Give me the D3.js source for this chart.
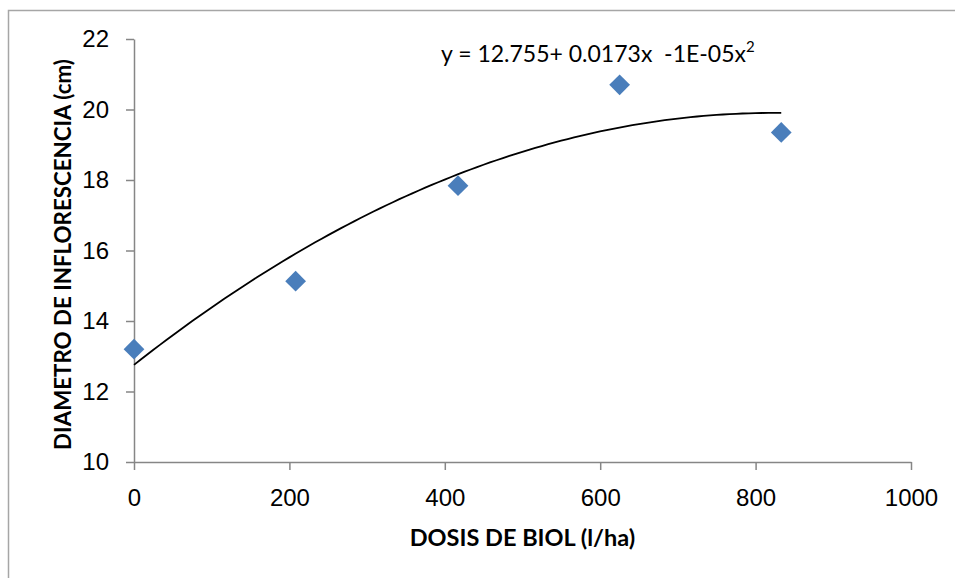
<!DOCTYPE html>
<html>
<head>
<meta charset="utf-8">
<script src="https://cdn.jsdelivr.net/npm/d3@7/dist/d3.min.js"></script>
<style>
  body { margin: 0; background: #fff; }
  svg { display: block; font-family: Lato, "Open Sans", sans-serif; }
  .axis path, .axis line { stroke: #868686; stroke-width: 1.5; }
  .axis text { fill: #000; font-size: 24px; }
  .title { font-weight: bold; fill: #000; }
</style>
</head>
<body>
<div id="chart"></div>
<script>
// data
var doses = [0, 208, 417, 625, 833];
var diameters = [13.2, 15.13, 17.84, 20.7, 19.35];
var xTicks = [0, 200, 400, 600, 800, 1000];
var yTicks = [10, 12, 14, 16, 18, 20, 22];
var equation = "y = 12.755+ 0.0173x  -1E-05x";

var W = 955, H = 578;
var margin = {top: 39, right: 44, bottom: 116, left: 134};
var width = W - margin.left - margin.right;
var height = H - margin.top - margin.bottom;

var svg = d3.select("#chart").append("svg")
    .attr("width", W)
    .attr("height", H);

// outer chart border (only top and left are in frame)
svg.append("path")
    .attr("d", "M8.5," + H + "V10.5H" + W)
    .attr("fill", "none")
    .attr("stroke", "#a6a6a6")
    .attr("stroke-width", 1.5);

var g = svg.append("g")
    .attr("transform", "translate(" + margin.left + "," + margin.top + ")");

var xScale = d3.scaleLinear().domain([0, 1000]).range([0, width]);
var yScale = d3.scaleLinear().domain([10, 22]).range([height, 0]);

g.append("g")
    .attr("class", "axis")
    .attr("transform", "translate(0," + height + ")")
    .call(d3.axisBottom(xScale).tickValues(xTicks).tickFormat(d3.format("d"))
        .tickSize(8).tickSizeOuter(0).tickPadding(19));

g.append("g")
    .attr("class", "axis")
    .call(d3.axisLeft(yScale).tickValues(yTicks).tickFormat(d3.format("d"))
        .tickSize(8).tickSizeOuter(0).tickPadding(17));

// quadratic least squares fit, like the spreadsheet trendline
function quadFit(xs, ys) {
    var s = [0, 0, 0, 0, 0], t = [0, 0, 0];
    xs.forEach(function(x, i) {
        for (var k = 0; k < 5; k++) s[k] += Math.pow(x, k);
        for (var j = 0; j < 3; j++) t[j] += Math.pow(x, j) * ys[i];
    });
    var m = [[s[0], s[1], s[2], t[0]], [s[1], s[2], s[3], t[1]], [s[2], s[3], s[4], t[2]]];
    for (var c = 0; c < 3; c++) {
        for (var r = c + 1; r < 3; r++) {
            var f = m[r][c] / m[c][c];
            for (var q = c; q < 4; q++) m[r][q] -= f * m[c][q];
        }
    }
    var b = [0, 0, 0];
    for (var r2 = 2; r2 >= 0; r2--) {
        var v = m[r2][3];
        for (var q2 = r2 + 1; q2 < 3; q2++) v -= m[r2][q2] * b[q2];
        b[r2] = v / m[r2][r2];
    }
    return function(x) { return b[0] + b[1] * x + b[2] * x * x; };
}

var fit = quadFit(doses, diameters);
var xMax = d3.max(doses);
var curvePts = d3.range(0, 101).map(function(i) {
    var x = xMax * i / 100;
    return {x: x, y: fit(x)};
});

var line = d3.line()
    .x(function(d) { return xScale(d.x); })
    .y(function(d) { return yScale(d.y); })
    .curve(d3.curveLinear);

g.append("path")
    .datum(curvePts)
    .attr("class", "trend-line")
    .attr("d", line)
    .attr("fill", "none")
    .attr("stroke", "#000")
    .attr("stroke-width", 1.8);

// diamond markers
var points = doses.map(function(d, i) { return {x: d, y: diameters[i]}; });
g.selectAll(".point")
    .data(points)
    .enter().append("path")
    .attr("class", "point")
    .attr("d", d3.symbol().type(d3.symbolSquare).size(215))
    .attr("transform", function(d) {
        return "translate(" + xScale(d.x) + "," + yScale(d.y) + ") rotate(45)";
    })
    .attr("fill", "#4a7ebb");

// trendline equation
var eq = g.append("text")
    .attr("x", 441 - margin.left)
    .attr("y", 62 - margin.top)
    .attr("font-size", 23)
    .attr("fill", "#000")
    .style("white-space", "pre")
    .text(equation);
eq.append("tspan")
    .attr("dy", -10)
    .attr("font-size", 15)
    .text("2");

// axis titles
g.append("text")
    .attr("class", "title")
    .attr("font-size", 23.5)
    .attr("x", width / 2)
    .attr("y", height + 84)
    .attr("text-anchor", "middle")
    .text("DOSIS DE BIOL (l/ha)");

g.append("text")
    .attr("class", "title")
    .attr("font-size", 22.3)
    .attr("transform", "translate(" + (-63) + "," + (height / 2 + 4) + ") rotate(-90)")
    .attr("text-anchor", "middle")
    .text("DIAMETRO DE INFLORESCENCIA (cm)");
</script>
</body>
</html>
